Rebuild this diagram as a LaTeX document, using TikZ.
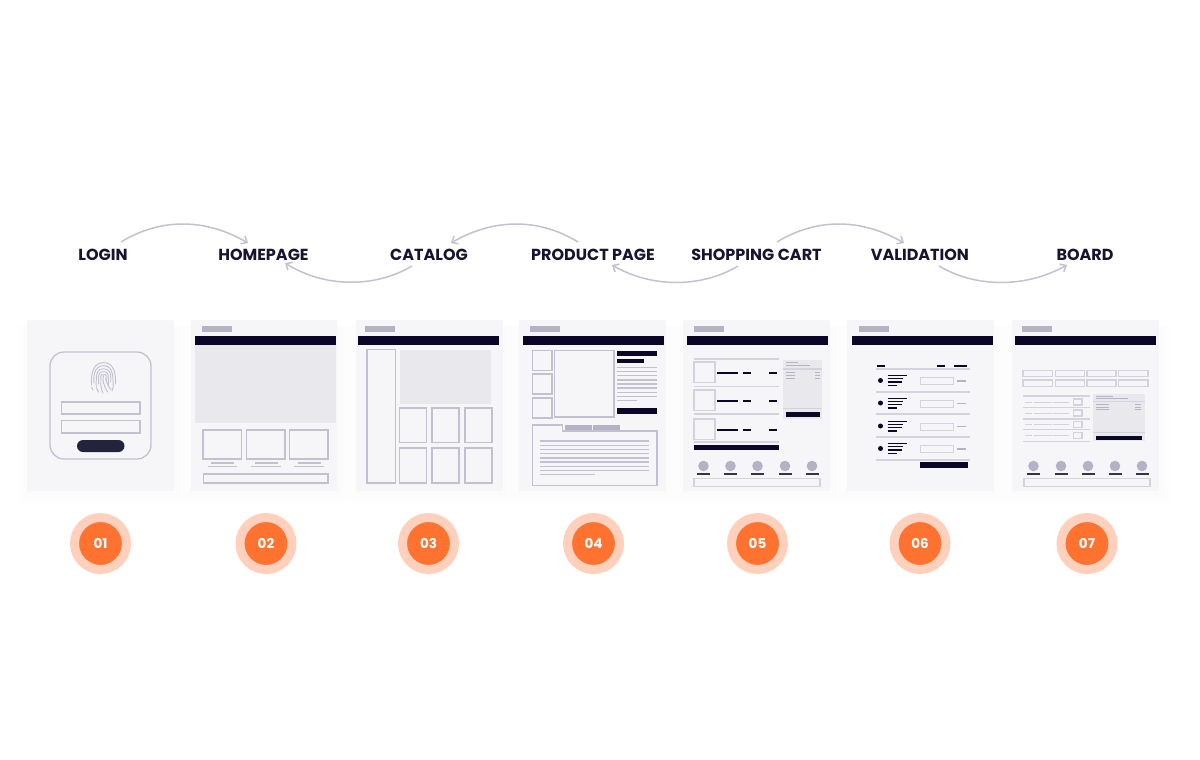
\documentclass[tikz,border=0pt]{standalone}
\usepackage{fontspec}
\usetikzlibrary{arrows.meta}
\setmainfont{Poppins}
\definecolor{inkdark}{HTML}{0A0628}
\definecolor{labelink}{HTML}{17142F}
\definecolor{wiregray}{HTML}{C3C1D1}
\definecolor{paleline}{HTML}{D3D2DE}
\definecolor{logogray}{HTML}{B5B2C6}
\definecolor{panelbg}{HTML}{F6F6F9}
\definecolor{herobg}{HTML}{E8E8ED}
\definecolor{btndark}{HTML}{24233C}
\definecolor{stepfill}{HTML}{FF7230}
\definecolor{stephalo}{HTML}{FFD0BB}
\tikzset{
  flow/.style={draw=wiregray, line width=1.5pt, -{Straight Barb[length=5pt,width=9pt]}},
  pagelabel/.style={font=\bfseries\fontsize{16}{18}\selectfont, text=labelink, inner sep=0pt},
  stepnum/.style={circle, fill=stepfill, draw=stephalo, line width=9pt, minimum size=52pt, inner sep=0pt,
    text=white, font=\bfseries\fontsize{13.5}{15}\selectfont},
  wire/.style={draw=wiregray, line width=1.3pt},
  thin wire/.style={draw=wiregray, line width=1.1pt},
  pale/.style={draw=paleline, line width=1.2pt},
  print/.style={draw=wiregray, line width=.95pt, line cap=round},
  darkbar/.style={fill=inkdark},
  darkdash/.style={draw=inkdark, line width=1.7pt},
  graydash/.style={draw=logogray, line width=1.3pt}
}
% logo bar and header strip, #1 = left of the strip
\newcommand{\wiretop}[1]{
  \fill[logogray] (#1+6.5,326) rectangle (#1+37,331.5);
  \fill[darkbar] (#1,336) rectangle (#1+141,345);
}
% row of round icons with a dash below and the footer box
\newcommand{\iconrow}[5]{
  \foreach \cx in {#1,#2,#3,#4,#5} {
    \fill[logogray] (\cx,466) circle (5.3);
    \draw[draw=black!70!logogray, line width=1.5pt] (\cx-6.5,474) -- (\cx+6.5,474);
  }
  \draw[pale] (694+#1-703.5,478.5) rectangle (820+#1-703.5,486.5);
}
\begin{document}
\begin{tikzpicture}[x=1pt,y=-1pt]
  \useasboundingbox (0,0) rectangle (1200,760);
  \fill[white] (0,0) rectangle (1200,760);

  % panels
  \foreach \px in {27,190.5,356,519,683,847,1012} {
    \foreach \d in {3,6,...,12}
      \fill[inkdark,opacity=.003] (\px-\d+3,326) rectangle (\px+146.5+\d,491+\d);
    \fill[panelbg] (\px,320) rectangle (\px+146.5,491);
  }

  % page names
  \node[pagelabel] (login) at (103,254.5) {LOGIN};
  \node[pagelabel] (homepage) at (263.5,254.5) {HOMEPAGE};
  \node[pagelabel] (catalog) at (429,254.5) {CATALOG};
  \node[pagelabel] (product) at (593,254.5) {PRODUCT PAGE};
  \node[pagelabel] (cart) at (756.5,254.5) {SHOPPING CART};
  \node[pagelabel] (validation) at (920,254.5) {VALIDATION};
  \node[pagelabel] (board) at (1085,254.5) {BOARD};

  \coordinate (loginout) at (121,242);
  \coordinate (homein) at (248,243);
  \coordinate (catalogout) at (412,266);
  \coordinate (homeback) at (285,263);
  \coordinate (productout) at (578,242);
  \coordinate (catalogin) at (451,243);
  \coordinate (cartback) at (738,266);
  \coordinate (productin) at (612,265);
  \coordinate (cartout) at (777,242);
  \coordinate (validin) at (904,243);
  \coordinate (validout) at (939,266);
  \coordinate (boardin) at (1067,265);

  \draw[flow] (loginout) .. controls (160,218) and (205,218) .. (homein);
  \draw[flow] (catalogout) .. controls (375,288) and (325,288) .. (homeback);
  \draw[flow] (productout) .. controls (539,218) and (494,218) .. (catalogin);
  \draw[flow] (cartback) .. controls (701,288) and (652,288) .. (productin);
  \draw[flow] (cartout) .. controls (816,218) and (861,218) .. (validin);
  \draw[flow] (validout) .. controls (976,288) and (1026,288) .. (boardin);

  % 01 login
  \draw[wire, rounded corners=14pt] (50,352) rectangle (151,459);
  \draw[wire] (61.5,402) rectangle (140,414);
  \draw[wire] (61.5,420.5) rectangle (140,433);
  \fill[btndark, rounded corners=6pt] (77,440) rectangle (124.5,452);
  % fingerprint
  \foreach \r/\lft/\rgt in {2.4/381/380, 4.8/384/385, 7.2/387/382, 9.6/383/388, 12/385/384} {
    \draw[print] (103.5-\r,\lft) .. controls (103.5-\r-.6,372) and (103.5-\r*.8,378-\r*1.28) .. (103.5,378-\r*1.28)
      .. controls (103.5+\r*.8,378-\r*1.28) and (103.5+\r+.6,372) .. (103.5+\r,\rgt);
  }
  \draw[print] (103.5,375.5) .. controls (102,380) and (104,386) .. (107.5,392);
  \draw[print] (101,382) .. controls (100.5,386) and (101.5,390) .. (103,393);
  \draw[print] (106,378) .. controls (106,382) and (108,386) .. (111,389.5);
  \draw[print] (96.5,388) .. controls (97,389.5) and (97.5,390.5) .. (98.5,392);
  \draw[print] (113,388) -- (112,391);
  \draw[print] (91.5,387) -- (93,390);

  % 02 homepage
  \wiretop{195}
  \fill[herobg] (195,345) rectangle (336,423);
  \foreach \bx in {203,246.5,289.5} {
    \draw[wire] (\bx,430) rectangle (\bx+38.5,459);
    \draw[thin wire] (\bx+8,463) -- (\bx+31,463);
    \draw[thin wire] (\bx+4.5,466.5) -- (\bx+34,466.5);
  }
  \draw[wire] (203.5,474) rectangle (328,483);

  % 03 catalog
  \wiretop{358}
  \draw[wire] (367,349.5) rectangle (395.5,483);
  \fill[herobg] (399.5,350) rectangle (491,404);
  \foreach \bx in {399.5,432,465} {
    \draw[wire] (\bx,408) rectangle (\bx+27,442.5);
    \draw[wire] (\bx,448) rectangle (\bx+27,483);
  }

  % 04 product page
  \wiretop{523}
  \foreach \by in {350.5,374,398}
    \draw[wire] (532.5,\by) rectangle (552,\by+20);
  \draw[wire] (554.5,350.5) rectangle (614,417);
  \fill[darkbar] (617,351) rectangle (657,355.5);
  \fill[darkbar] (617,358.5) rectangle (644,362.5);
  \foreach \ly in {367.7,371.7,375.7,380,384,388,392.3,396.3}
    \draw[thin wire] (617,\ly) -- (657,\ly);
  \draw[thin wire] (617,400.7) -- (637,400.7);
  \fill[darkbar] (617,408) rectangle (657,414);
  \fill[logogray] (565,425) rectangle (592,431);
  \fill[logogray] (593,425) rectangle (620,431);
  \draw[wire] (532.5,425) -- (562.5,425) -- (562.5,431) -- (657,431) -- (657,485.5) -- (532.5,485.5) -- cycle;
  \foreach \ly in {441,445.3,449.3,453.7,458,462,466.3,470.3}
    \draw[thin wire] (539.5,\ly) -- (649,\ly);
  \draw[thin wire] (539.5,474.7) -- (595,474.7);

  % 05 shopping cart
  \wiretop{687}
  \foreach \ly in {359,386.5,414,442}
    \draw[pale] (693.5,\ly) -- (779,\ly);
  \foreach \by in {362,390,419} {
    \draw[pale] (694,\by) rectangle (715,\by+20.5);
    \draw[darkdash] (717,\by+11) -- (738,\by+11);
    \draw[darkdash] (743,\by+11) -- (751,\by+11);
    \draw[darkdash] (769,\by+11) -- (777,\by+11);
  }
  \fill[darkbar] (693.5,444.5) rectangle (779,450);
  \fill[herobg] (783,360) rectangle (822,419);
  \draw[graydash,line width=.8pt] (786,362.5) -- (798,362.5);
  \draw[graydash,line width=.8pt] (786,365.5) -- (810,365.5);
  \draw[pale] (783,369) -- (822,369);
  \foreach \ly in {372,375,378.5} {
    \draw[graydash,line width=.8pt] (786,\ly) -- (795,\ly);
    \draw[graydash,line width=.8pt] (815,\ly) -- (820,\ly);
  }
  \draw[pale] (783,408.5) -- (822,408.5);
  \fill[darkbar] (786,412) rectangle (820,417);
  \iconrow{703.5}{730.5}{757.5}{785}{812}

  % 06 validation
  \wiretop{852}
  \draw[darkdash] (877,366) -- (885,366);
  \draw[darkdash] (937,366) -- (945,366);
  \draw[darkdash] (954,366) -- (967,366);
  \foreach \ly in {369,392,414,437,460}
    \draw[pale] (876,\ly) -- (970,\ly);
  \foreach \ry in {380.5,403,426,448.5} {
    \fill[inkdark] (880.5,\ry) circle (2.5);
    \draw[darkdash,line width=1.4pt] (887.5,\ry-4.8) -- (907,\ry-4.8);
    \draw[darkdash,line width=1.4pt] (887.5,\ry-1.8) -- (902.5,\ry-1.8);
    \draw[darkdash,line width=1.4pt] (887.5,\ry+1.5) -- (902,\ry+1.5);
    \draw[darkdash,line width=1.4pt] (887.5,\ry+4.8) -- (896.5,\ry+4.8);
    \draw[pale] (920.5,\ry-2.8) rectangle (953.5,\ry+4.2);
    \draw[graydash] (957,\ry+.5) -- (965.5,\ry+.5);
  }
  \fill[darkbar] (920,462) rectangle (967.5,467.5);

  % 07 board
  \wiretop{1015}
  \foreach \bx/\ex in {1023/1052.5,1055.5/1084.5,1087/1116,1118.5/1148} {
    \draw[pale] (\bx,370.5) rectangle (\ex,376.5);
    \draw[pale] (\bx,380) rectangle (\ex,386.5);
  }
  \foreach \ly in {396,407.5,419,429.5,441.5}
    \draw[pale] (1023,\ly) -- (1089.5,\ly);
  \foreach \ry in {402,413,424.5,435.5} {
    \draw[pale,line width=1pt] (1025,\ry) -- (1032,\ry);
    \draw[pale,line width=1pt] (1034,\ry) -- (1051.5,\ry);
    \draw[pale,line width=1pt] (1053,\ry) -- (1069,\ry);
    \draw[pale] (1073.5,\ry-3) rectangle (1082,\ry+3);
  }
  \fill[herobg] (1093,393.5) rectangle (1145,441);
  \draw[graydash,line width=.8pt] (1096,396) -- (1113,396);
  \draw[graydash,line width=.8pt] (1096,398.5) -- (1128,398.5);
  \draw[pale] (1093,401.5) -- (1145,401.5);
  \foreach \ly in {404,407,409.5} {
    \draw[graydash,line width=.8pt] (1096,\ly) -- (1109,\ly);
    \draw[graydash,line width=.8pt] (1135,\ly) -- (1141,\ly);
  }
  \draw[pale] (1093,432.5) -- (1145,432.5);
  \fill[darkbar] (1096,436) rectangle (1142,439.5);
  \iconrow{1033.5}{1061}{1088}{1115}{1142}

  % step numbers
  \node[stepnum] (stepa) at (100.5,543.5) {01};
  \node[stepnum] (stepb) at (266,543.5) {02};
  \node[stepnum] (stepc) at (428.5,543.5) {03};
  \node[stepnum] (stepd) at (593.5,543.5) {04};
  \node[stepnum] (stepe) at (757.5,543.5) {05};
  \node[stepnum] (stepf) at (920,543.5) {06};
  \node[stepnum] (stepg) at (1087,543.5) {07};
\end{tikzpicture}
\end{document}
